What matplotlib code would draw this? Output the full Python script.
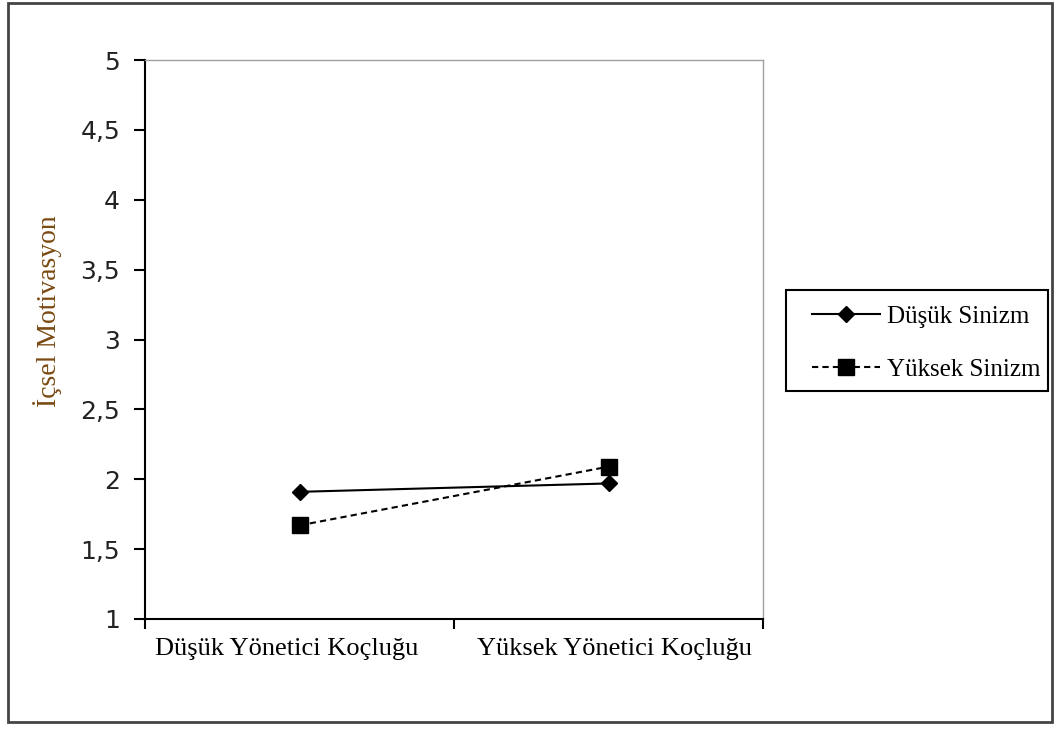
import matplotlib.pyplot as plt
from matplotlib.patches import Rectangle
from matplotlib.ticker import FixedLocator, NullFormatter

categories = ['Düşük Yönetici Koçluğu', 'Yüksek Yönetici Koçluğu']
dusuk_sinizm = [1.91, 1.97]
yuksek_sinizm = [1.67, 2.09]
y_ticks = [1, 1.5, 2, 2.5, 3, 3.5, 4, 4.5, 5]
y_labels = ['1', '1,5', '2', '2,5', '3', '3,5', '4', '4,5', '5']

serif = 'Liberation Serif'
W, H = 1060, 731

fig = plt.figure(figsize=(10.6, 7.31), dpi=100)
ax = fig.add_axes([145/W, 1 - 619/H, (763-145)/W, (619-60)/H])

x_pos = [0.5, 1.5]
ax.plot(x_pos, dusuk_sinizm, color='black', lw=1.5, marker='D', ms=8.5,
        label='Düşük Sinizm')
ax.plot(x_pos, yuksek_sinizm, color='black', lw=1.5, ls=(0, (3, 2)), marker='s', ms=12,
        label='Yüksek Sinizm')

ax.set_xlim(0, 2)
ax.set_ylim(1, 5)
ax.set_yticks(y_ticks)
ax.set_yticklabels(y_labels, fontsize=18, family='DejaVu Sans', color='#222222')
ax.tick_params(axis='y', direction='out', length=8, width=1.5, pad=10)

# kategori etiketleri (Excel'deki gibi hafif kaymış)
ax.xaxis.set_major_locator(FixedLocator([0, 1, 2]))
ax.xaxis.set_major_formatter(NullFormatter())
ax.xaxis.set_minor_locator(FixedLocator([0.458, 1.518]))
ax.set_xticklabels(categories, minor=True, fontsize=19, family=serif)
ax.tick_params(axis='x', which='major', direction='out', length=7, width=1.5)
ax.tick_params(axis='x', which='minor', length=0, pad=14)

for s in ['top', 'right']:
    ax.spines[s].set_color('#a0a0a0')
    ax.spines[s].set_linewidth(1.0)
for s in ['left', 'bottom']:
    ax.spines[s].set_color('black')
    ax.spines[s].set_linewidth(1.5)

ax.set_ylabel('İçsel Motivasyon', fontsize=20, family=serif, color='#7a4a12')
ax.yaxis.set_label_coords(-0.135, 0.551)

leg = ax.legend(loc='center left', bbox_to_anchor=(812/W, 1 - 343/H),
                bbox_transform=fig.transFigure, frameon=False,
                handlelength=2.7, handletextpad=0.3,
                labelspacing=1.2, borderaxespad=0, borderpad=0,
                prop={'family': serif, 'size': 18})

fig.patches.append(Rectangle((786/W, 1 - 391/H), (1048-786)/W, (391-290)/H,
                             transform=fig.transFigure, fill=False,
                             edgecolor='black', lw=1.5))
fig.patches.append(Rectangle((8/W, 1 - 722/H), (1052-8)/W, (722-3)/H,
                             transform=fig.transFigure, fill=False,
                             edgecolor='#444444', lw=2))

fig.savefig('out.png', dpi=100)
